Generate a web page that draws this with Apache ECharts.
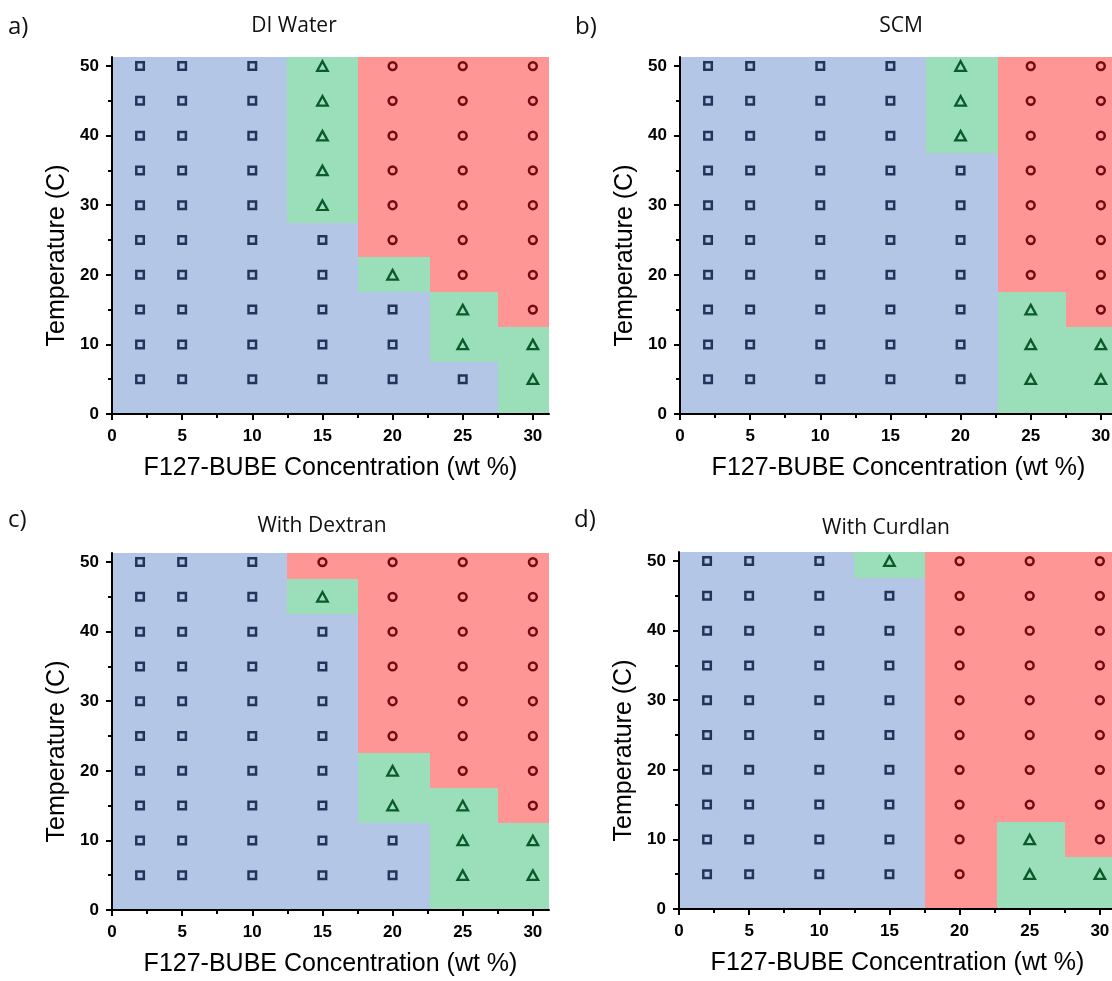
<!DOCTYPE html>
<html><head><meta charset="utf-8">
<script src="https://cdn.jsdelivr.net/npm/echarts@6/dist/echarts.min.js"></script>
<style>html,body{margin:0;padding:0;background:#fff}#c{width:1112px;height:981px}</style>
</head><body><div id="c"></div>
<script>
// ---------------- data ----------------
const concentrations = [2, 5, 10, 15, 20, 25, 30];          // wt %
const temperatures = [5, 10, 15, 20, 25, 30, 35, 40, 45, 50]; // °C
const xTicks = [0, 5, 10, 15, 20, 25, 30];
const xMinorTicks = [2.5, 7.5, 12.5, 17.5, 22.5, 27.5];
const yTicks = [0, 10, 20, 30, 40, 50];
const yMinorTicks = [5, 15, 25, 35, 45];
const xMax = 31.15;
const yMax = 51.3;
// boundaries of the shaded phase cells
const concEdges = [0, 3.5, 7.5, 12.5, 17.5, 22.7, 27.5, xMax];
const tempEdges = [0, 7.5, 12.5, 17.5, 22.5, 27.5, 32.5, 37.5, 42.5, 47.5, yMax];
// S = square / blue, T = triangle / green, O = circle / red
// one string per temperature (5 → 50), one character per concentration (2 → 30)
const phaseDIWater = ['SSSSSST','SSSSSTT','SSSSSTO','SSSSTOO','SSSSOOO','SSSTOOO','SSSTOOO','SSSTOOO','SSSTOOO','SSSTOOO'];
const phaseSCM     = ['SSSSSTT','SSSSSTT','SSSSSTO','SSSSSOO','SSSSSOO','SSSSSOO','SSSSSOO','SSSSTOO','SSSSTOO','SSSSTOO'];
const phaseDextran = ['SSSSSTT','SSSSSTT','SSSSTTO','SSSSTOO','SSSSOOO','SSSSOOO','SSSSOOO','SSSSOOO','SSSTOOO','SSSOOOO'];
const phaseCurdlan = ['SSSSOTT','SSSSOTO','SSSSOOO','SSSSOOO','SSSSOOO','SSSSOOO','SSSSOOO','SSSSOOO','SSSSOOO','SSSTOOO'];
const panelTitles = ['DI Water', 'SCM', 'With Dextran', 'With Curdlan'];
const panelLetters = ['a)', 'b)', 'c)', 'd)'];
const xName = 'F127-BUBE Concentration (wt %)';
const yName = 'Temperature (C)';

// ---------------- styling / layout ----------------
const phases = [phaseDIWater, phaseSCM, phaseDextran, phaseCurdlan];
const phaseCodes = ['S', 'T', 'O'];
const bgColors = ['#b4c6e6', '#9bdfba', '#ff9696'];
const markColors = ['#22345a', '#0b5a2c', '#700b10'];
const markSymbols = ['rect', 'triangle', 'circle'];
const markSizes = [7.5, [10.5, 9.5], 7.8];
const markBorder = [2.5, 2.3, 2.5];
const grids = [
  {left: 112, top: 57, width: 437, height: 357},
  {left: 680, top: 57, width: 437, height: 357},
  {left: 112, top: 553, width: 437, height: 357},
  {left: 679, top: 552, width: 437, height: 357}
];
const titlePos = [[294, 26], [901, 26], [322, 526], [886, 528]];
const letterPos = [[8, 27], [575, 27], [8, 520], [574, 520]];

const LBL = {fontFamily: 'Liberation Sans', fontWeight: 'bold', fontSize: 17, color: '#000'};
const NAME = {fontFamily: 'Liberation Sans', fontSize: 25, color: '#000'};
const fmt = list => v => (list.indexOf(Math.round(v * 100) / 100) >= 0 ? String(v) : '');
const xAxes = [], yAxes = [], series = [], graphics = [];

grids.forEach((g, i) => {
  xAxes.push({
    gridIndex: i, type: 'value', min: 0, max: xMax, interval: 5, position: 'bottom', z: 10,
    axisLine: {show: true, onZero: false, lineStyle: {color: '#000', width: 2}},
    axisTick: {show: true, length: 6, customValues: xTicks, lineStyle: {color: '#000', width: 2}},
    axisLabel: Object.assign({margin: 14, showMaxLabel: false, formatter: fmt(xTicks)}, LBL),
    splitLine: {show: false},
    name: xName, nameLocation: 'middle', nameGap: 42, nameMoveOverlap: false,
    nameTextStyle: NAME
  });
  xAxes.push({
    gridIndex: i, type: 'value', min: 0, max: xMax, position: 'bottom', z: 10,
    axisLine: {show: false, onZero: false},
    axisTick: {show: true, length: 4, customValues: xMinorTicks, lineStyle: {color: '#000', width: 2}},
    axisLabel: {show: false}, splitLine: {show: false}
  });
  yAxes.push({
    gridIndex: i, type: 'value', min: 0, max: yMax, interval: 10, position: 'left', z: 10,
    axisLine: {show: true, onZero: false, lineStyle: {color: '#000', width: 2}},
    axisTick: {show: true, length: 6, customValues: yTicks, lineStyle: {color: '#000', width: 2}},
    axisLabel: Object.assign({margin: 13, showMaxLabel: false, formatter: fmt(yTicks)}, LBL),
    splitLine: {show: false},
    name: yName, nameLocation: 'middle', nameGap: 42, nameRotate: 90, nameMoveOverlap: false,
    nameTextStyle: Object.assign({padding: [0, 40, 0, 0]}, NAME)
  });
  yAxes.push({
    gridIndex: i, type: 'value', min: 0, max: yMax, position: 'left', z: 10,
    axisLine: {show: false, onZero: false},
    axisTick: {show: true, length: 4, customValues: yMinorTicks, lineStyle: {color: '#000', width: 2}},
    axisLabel: {show: false}, splitLine: {show: false}
  });

  // cells for background shading
  const cells = [];
  const points = [[], [], []];
  phases[i].forEach((row, r) => {
    row.split('').forEach((ch, c) => {
      const k = phaseCodes.indexOf(ch);
      cells.push([concEdges[c], concEdges[c + 1], tempEdges[r], tempEdges[r + 1], k]);
      points[k].push([concentrations[c], temperatures[r]]);
    });
  });
  series.push({
    type: 'custom', xAxisIndex: 2 * i, yAxisIndex: 2 * i, silent: true, z: 1,
    encode: {x: [0, 1], y: [2, 3]},
    data: cells,
    renderItem: (params, api) => {
      const p0 = api.coord([api.value(0), api.value(2)]);
      const p1 = api.coord([api.value(1), api.value(3)]);
      const x0 = Math.round(p0[0]), x1 = Math.round(p1[0]);
      const yb = Math.round(p0[1]), yt = Math.round(p1[1]);
      return {type: 'rect', shape: {x: x0, y: yt, width: x1 - x0, height: yb - yt},
              style: {fill: bgColors[api.value(4)]}};
    }
  });
  points.forEach((pts, k) => {
    series.push({
      type: 'scatter', xAxisIndex: 2 * i, yAxisIndex: 2 * i, silent: true, z: 5,
      data: pts, symbol: markSymbols[k], symbolSize: markSizes[k],
      itemStyle: {color: 'rgba(0,0,0,0)', borderColor: markColors[k], borderWidth: markBorder[k], opacity: 1}
    });
  });

  graphics.push({type: 'text', x: titlePos[i][0], y: titlePos[i][1], silent: true,
    style: {text: panelTitles[i], font: '21px "Open Sans"', fill: '#111', align: 'center', verticalAlign: 'middle'}});
  graphics.push({type: 'text', x: letterPos[i][0], y: letterPos[i][1], silent: true,
    style: {text: panelLetters[i], font: '24px "Open Sans"', fill: '#111', align: 'left', verticalAlign: 'middle'}});
});

const chart = echarts.init(document.getElementById('c'), null, {renderer: 'canvas'});
chart.setOption({
  animation: false,
  backgroundColor: '#fff',
  grid: grids.map(g => Object.assign({outerBoundsMode: 'none', containLabel: false}, g)),
  xAxis: xAxes,
  yAxis: yAxes,
  series: series,
  graphic: graphics
});
</script></body></html>
